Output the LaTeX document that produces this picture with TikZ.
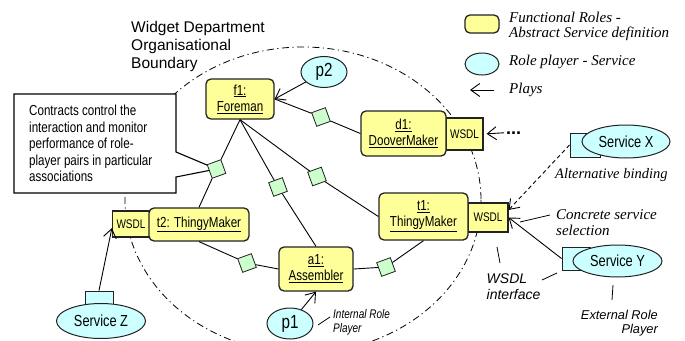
\documentclass[tikz,border=0pt]{standalone}
\usepackage{fontspec}
\setmainfont{Liberation Sans}
\newfontfamily\narrowsf{Liberation Sans}[FakeStretch=0.8]
\newfontfamily\timesf{Liberation Serif}
\usetikzlibrary{shapes.geometric,arrows.meta,calc,backgrounds}
\definecolor{roley}{HTML}{FFFF99}
\definecolor{playc}{HTML}{CCFFFF}
\definecolor{contg}{HTML}{CCFFCC}
\definecolor{edgec}{HTML}{222222}
\begin{document}
\begin{tikzpicture}[x=1pt,y=-1pt,
  role/.style={draw=edgec, line width=1.3pt, fill=roley, rounded corners=5pt, inner sep=0pt, align=center, font=\narrowsf\fontsize{14.5}{16}\selectfont},
  wsdl/.style={draw=edgec, line width=1.2pt, fill=roley, inner sep=0pt, font=\narrowsf\fontsize{12.5}{13}\selectfont},
  player/.style={ellipse, draw=edgec, line width=1pt, fill=playc, inner sep=0pt, font=\narrowsf\fontsize{16}{16}\selectfont},
  port/.style={draw=edgec, line width=1pt, fill=playc, inner sep=0pt},
  contract/.style={draw=edgec, line width=0.8pt, fill=contg, minimum size=14.5pt, inner sep=0pt, rotate=20},
  link/.style={draw=black, line width=0.9pt},
  plays/.style={link, -{Straight Barb[length=9pt,width=13pt]}},
  lead/.style={draw=black, line width=0.8pt},
  boundary/.style={draw=black, line width=0.8pt, dash pattern=on 7pt off 3.5pt on 1.2pt off 3.5pt},
  lbl/.style={inner sep=0pt, align=left, font=\timesf\itshape\fontsize{15}{15.6}\selectfont}
]
\useasboundingbox (0,0) rectangle (685,340);

% roles and WSDL interfaces
\node[role, minimum width=68pt, minimum height=40pt] (f1) at (240,99) {\underline{f1:}\\\underline{Foreman}};
\node[wsdl, minimum width=37pt, minimum height=32pt] (wd1) at (464.5,134) {WSDL};
\node[role, minimum width=85pt, minimum height=45pt] (d1) at (403.5,133.5) {\underline{d1:}\\\underline{DooverMaker}};
\node[wsdl, minimum width=40pt, minimum height=29pt] (wt1) at (488,217.5) {WSDL};
\node[role, minimum width=89pt, minimum height=47pt] (t1) at (423.5,216.5) {\underline{t1:}\\\underline{ThingyMaker}};
\node[role, minimum width=74pt, minimum height=44pt] (a1) at (316,269) {\underline{a1:}\\\underline{Assembler}};
\node[wsdl, minimum width=37pt, minimum height=26pt] (wt2) at (131,224) {WSDL};
\node[role, minimum width=100pt, minimum height=33pt] (t2) at (199,224.5) {\underline{t2: ThingyMaker}};

% players
\node[player, minimum width=46pt, minimum height=31pt, font=\narrowsf\fontsize{19}{19}\selectfont] (p2) at (324,72) {p2};
\node[player, minimum width=46pt, minimum height=31pt, font=\narrowsf\fontsize{19}{19}\selectfont] (p1) at (290,323.5) {p1};

% external services
\node[port, minimum width=28pt, minimum height=14pt] (zr) at (99,298) {};
\node[player, minimum width=89pt, minimum height=35pt] (sz) at (101,321) {Service Z};
\node[port, minimum width=30pt, minimum height=24pt] (xr) at (585,145) {};
\node[player, minimum width=88pt, minimum height=33pt] (sx) at (626,141.5) {Service X};
\node[port, minimum width=28pt, minimum height=23pt] (yr) at (576,258.5) {};
\node[player, minimum width=89pt, minimum height=32pt] (sy) at (617.5,261) {Service Y};

% contracts
\node[contract] (c1) at (216.5,169) {};
\node[contract] (c2) at (278,187) {};
\node[contract] (c3) at (317,176.5) {};
\node[contract] (c4) at (321,117) {};
\node[contract] (c5) at (247,263) {};
\node[contract] (c6) at (386,267) {};

% contract links
\draw[link] (f1.south) -- (c1) -- (t2.north);
\draw[link] (f1.south) -- (c2) -- (a1.north);
\draw[link] (f1.south) -- (c3) -- (t1.west);
\draw[link] (f1.east) -- (c4) -- (d1.west);
\draw[link] (t2.south) -- (c5) -- (a1.west);
\draw[link] (a1.east) -- (c6) -- (t1.south);

% plays arrows
\draw[plays] (p2) -- (f1.east);
\draw[plays] (p1) -- (a1.south);
\draw[plays] (zr.north) -- ($(wt2.south west)!0.35!(wt2.north west)$);
\draw[plays] (yr.west) -- (wt1.east);
\draw[plays, dash pattern=on 4pt off 3pt] (xr.west) -- ($(wt1.north east)!0.25!(wt1.south east)$);
\node[anchor=base west, inner sep=0pt, font=\bfseries\fontsize{18}{18}\selectfont] (dots) at (506,134) {...};
\draw[plays, shorten >=3pt, shorten <=2pt] (dots.west) -- (wd1.east);

% title and callout text
\node[anchor=north west, inner sep=0pt, align=left, font=\fontsize{15.5}{17.8}\selectfont] (title) at (131,21.5) {Widget Department\\Organisational\\Boundary};
\node[anchor=north west, inner sep=0pt, align=left, font=\narrowsf\fontsize{14.5}{16.5}\selectfont] (ctext) at (29,104.8) {Contracts control the\\interaction and monitor\\performance of role-\\player pairs in particular\\associations};

% annotation labels
\node[lbl, anchor=base west, font=\timesf\itshape\fontsize{14.5}{15}\selectfont] (alt) at (555,178) {Alternative binding};
\node[lbl, anchor=north west, font=\timesf\itshape\fontsize{15}{16.3}\selectfont] (conc) at (556,209.3) {Concrete service\\selection};
\node[anchor=north west, inner sep=0pt, align=left, font=\itshape\fontsize{14}{16}\selectfont] (wif) at (486.5,273.3) {WSDL\\interface};
\node[anchor=north east, inner sep=0pt, align=right, font=\itshape\fontsize{12.8}{14.3}\selectfont] (ext) at (658,309.8) {External Role\\Player};
\node[anchor=north west, inner sep=0pt, align=left, font=\narrowsf\itshape\fontsize{12.5}{13.5}\selectfont] (int) at (333,309.3) {Internal Role\\Player};

\coordinate (cca) at (550,215); \coordinate (ccb) at (520,222);
\draw[lead] (cca) -- (ccb);
\coordinate (wia) at (497,247); \coordinate (wib) at (500,263);
\draw[lead] (wia) -- (wib);
\coordinate (wic) at (542,280); \coordinate (wid) at (557,273);
\draw[lead] (wic) -- (wid);
\coordinate (era) at (613,285); \coordinate (erb) at (612,300);
\draw[lead] (era) -- (erb);
\coordinate (ira) at (318,325); \coordinate (irb) at (330,317);
\draw[lead] (ira) -- (irb);

% legend
\node[role, minimum width=34pt, minimum height=18pt] (lgr) at (482,24) {};
\node[player, minimum width=34pt, minimum height=22pt] (lgp) at (482,64) {};
\coordinate (lga) at (494,90); \coordinate (lgb) at (470,90);
\draw[plays] (lga) -- (lgb);
\node[lbl, anchor=north west] (lg1) at (509,11.5) {Functional Roles -\\Abstract Service definition};
\node[lbl, anchor=base west] (lg2) at (509,65.7) {Role player - Service};
\node[lbl, anchor=base west] (lg3) at (509,93.3) {Plays};

% background: organisational boundary and callout box
\begin{pgfonlayer}{background}
  \fill[white] (0,0) rectangle (685,340);
  \begin{scope}
    \clip (0,0) rectangle (685,340);
    \draw[boundary] (303,200) ellipse [x radius=178, y radius=153];
  \end{scope}
  \draw[line width=1.1pt, fill=white] (14,94) -- (176,94) -- (176,152) -- (c1.center) -- (176,177) -- (176,193) -- (14,193) -- cycle;
\end{pgfonlayer}
\end{tikzpicture}
\end{document}
